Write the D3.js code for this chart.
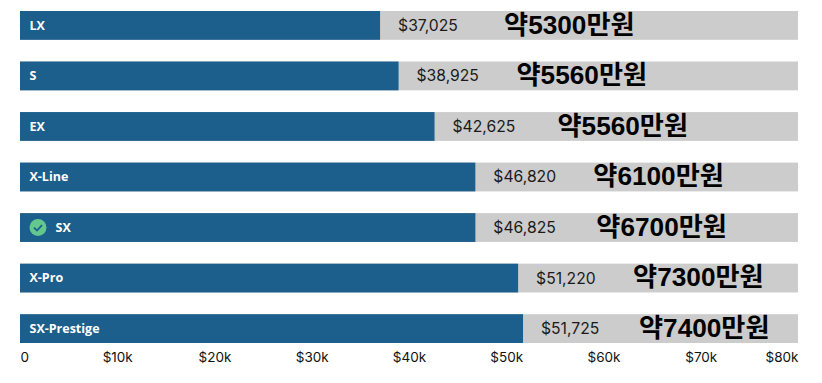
<!DOCTYPE html>
<html>
<head>
<meta charset="utf-8">
<script src="https://cdn.jsdelivr.net/npm/d3@7"></script>
<style>
  html, body { margin: 0; padding: 0; background: #fff; }
  svg { display: block; }
  .axis text { font-family: Inter, sans-serif; font-size: 13.5px; fill: #111; }
  .trim { font-family: "Open Sans", sans-serif; font-size: 12.5px; font-weight: 700; fill: #fff; }
  .price { font-family: Inter, sans-serif; font-size: 15.7px; fill: #1a1a1a; }
  .note { font-family: "Liberation Sans", "Noto Sans CJK KR", sans-serif; font-size: 26.2px; font-weight: 700; fill: #000; }
</style>
</head>
<body>
<div id="chart"></div>
<script>
const trims = ['LX', 'S', 'EX', 'X-Line', 'SX', 'X-Pro', 'SX-Prestige'];
const prices = [37025, 38925, 42625, 46820, 46825, 51220, 51725];
const notes = ['약5300만원', '약5560만원', '약5560만원', '약6100만원', '약6700만원', '약7300만원', '약7400만원'];
const checked = ['SX'];
const xTicks = [0, 10000, 20000, 30000, 40000, 50000, 60000, 70000, 80000];

// the korean notes were pasted on by hand, so each has its own gap from the bar end
const noteGaps = [124, 118, 123, 118, 121, 115, 116];

const width = 822;
const height = 383;
const margin = { top: 11, right: 24, bottom: 40, left: 20 };
const maxPrice = 80000;

const svg = d3.select('#chart').append('svg')
  .attr('width', width)
  .attr('height', height);

const x = d3.scaleLinear()
  .domain([0, maxPrice])
  .range([margin.left, width - margin.right]);

const y = d3.scaleBand()
  .domain(trims)
  .range([margin.top, height - margin.bottom])
  .paddingInner(0.43)
  .paddingOuter(0);

// Grey tracks
svg.selectAll('.track')
  .data(trims)
  .enter().append('rect')
  .attr('class', 'track')
  .attr('x', x(0))
  .attr('y', d => y(d))
  .attr('width', x(maxPrice) - x(0))
  .attr('height', y.bandwidth())
  .attr('fill', '#cccccc');

// Price bars
svg.selectAll('.bar')
  .data(trims)
  .enter().append('rect')
  .attr('class', 'bar')
  .attr('x', x(0))
  .attr('y', d => y(d))
  .attr('width', (d, i) => x(prices[i]) - x(0))
  .attr('height', y.bandwidth())
  .attr('fill', '#1c5f8c');

// Trim names inside the bars
svg.selectAll('.trim')
  .data(trims)
  .enter().append('text')
  .attr('class', 'trim')
  .attr('x', d => x(0) + (checked.includes(d) ? 35.5 : 9.5))
  .attr('y', d => y(d) + y.bandwidth() / 2)
  .attr('dy', '0.35em')
  .text(d => d);

// Check badge for the picked trim
const badge = svg.selectAll('.badge')
  .data(checked)
  .enter().append('g')
  .attr('class', 'badge')
  .attr('transform', d => `translate(${x(0) + 18}, ${y(d) + y.bandwidth() / 2})`);

badge.append('circle')
  .attr('r', 8.5)
  .attr('fill', '#63c78f');

badge.append('path')
  .attr('d', 'M-4,0 L-1,3 L4,-2.5')
  .attr('fill', 'none')
  .attr('stroke', '#1c5f8c')
  .attr('stroke-width', 1.8);

// Price labels
svg.selectAll('.price')
  .data(trims)
  .enter().append('text')
  .attr('class', 'price')
  .attr('x', (d, i) => x(prices[i]) + 18)
  .attr('y', d => y(d) + y.bandwidth() / 2)
  .attr('dy', '0.35em')
  .text((d, i) => '$' + d3.format(',')(prices[i]));

// Korean notes
svg.selectAll('.note')
  .data(trims)
  .enter().append('text')
  .attr('class', 'note')
  .attr('x', (d, i) => x(prices[i]) + noteGaps[i])
  .attr('y', d => y(d) + y.bandwidth() / 2)
  .attr('dy', '0.32em')
  .text((d, i) => notes[i]);

// Axis
const axis = svg.append('g')
  .attr('class', 'axis')
  .attr('transform', `translate(0, ${height - margin.bottom})`)
  .call(d3.axisBottom(x)
    .tickValues(xTicks)
    .tickSize(0)
    .tickPadding(9)
    .tickFormat(d => d === 0 ? '0' : `$${d / 1000}k`));

axis.select('.domain').remove();
axis.selectAll('.tick text')
  .attr('text-anchor', d => d === 0 ? 'start' : d === maxPrice ? 'end' : 'middle');
</script>
</body>
</html>
